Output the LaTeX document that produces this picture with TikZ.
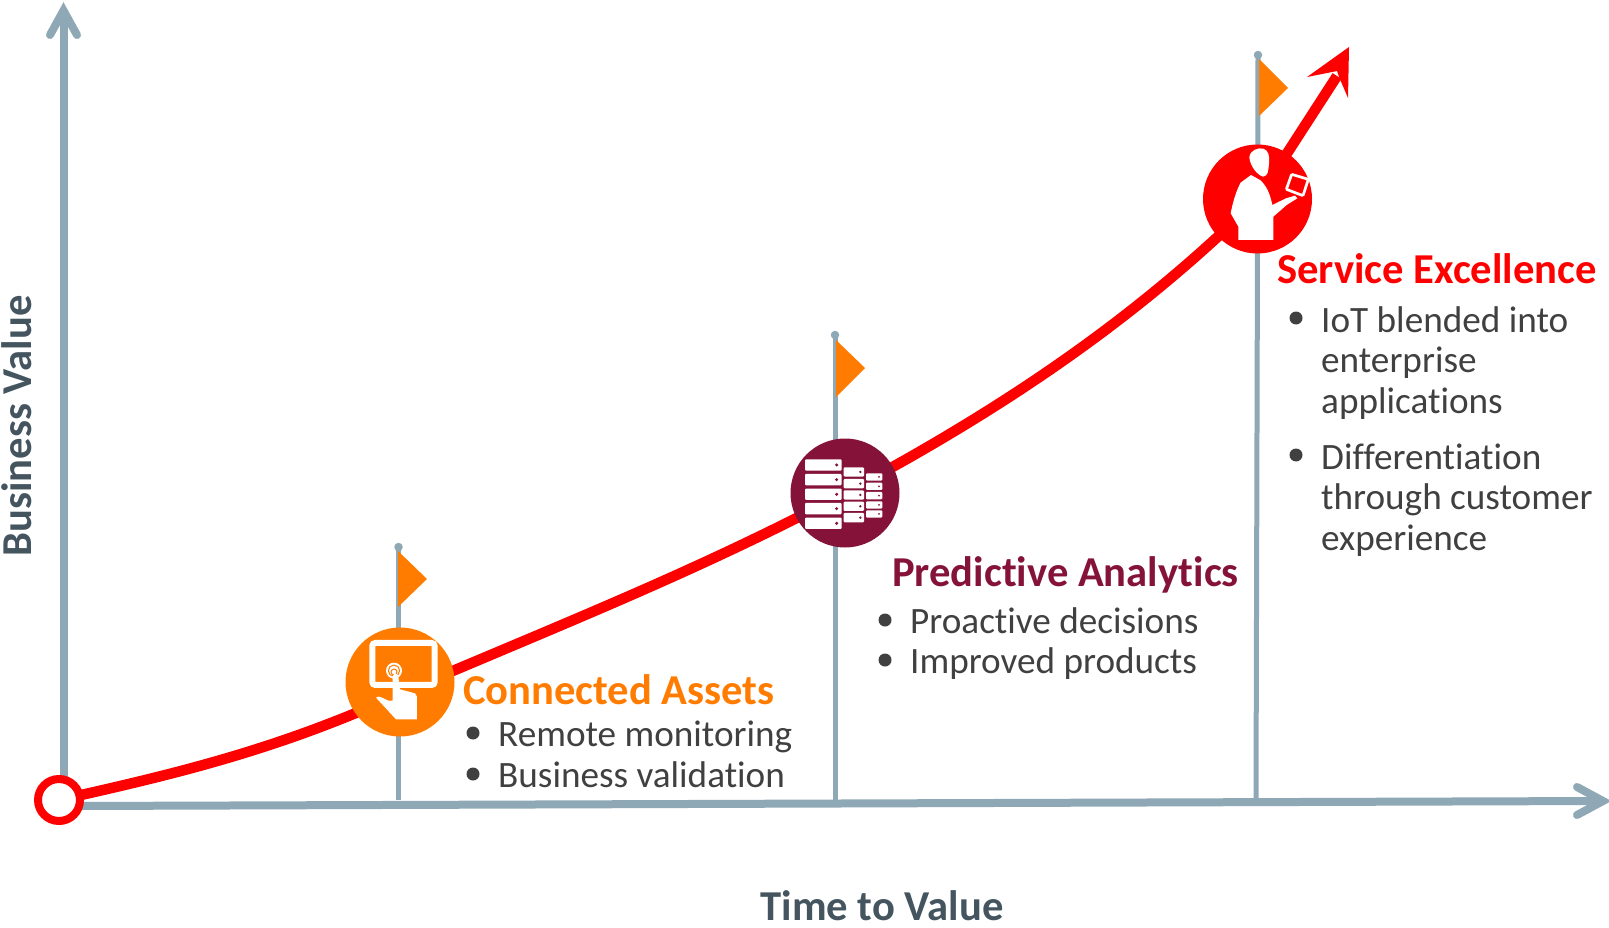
\documentclass[tikz,border=0pt]{standalone}
\usepackage{fontspec}
\setmainfont[Ligatures=NoCommon]{Carlito}
\usetikzlibrary{calc}
\definecolor{axisgray}{HTML}{8FA8B5}
\definecolor{flagorange}{HTML}{FF7C00}
\definecolor{maroon}{HTML}{851339}
\definecolor{bodytext}{HTML}{404040}
\definecolor{slate}{HTML}{44555F}
\tikzset{
  axisline/.style={draw=axisgray,line width=8pt},
  axishead/.style={draw=axisgray,line width=8pt,line cap=round,line join=miter},
  pole/.style={draw=axisgray,line width=5pt},
  poledot/.style={circle,fill=axisgray,inner sep=0pt,minimum size=8.5pt},
  flag/.style={fill=flagorange},
  trend/.style={draw=red,line width=10.5pt},
  badge/.style={circle,inner sep=0pt,minimum size=109pt},
  heading/.style={anchor=base west,inner sep=0pt,font=\fontsize{42.6}{42.6}\selectfont\bfseries},
  bodyline/.style={anchor=base west,inner sep=0pt,text=bodytext,font=\fontsize{37.2}{37.2}\selectfont},
  bulletdot/.style={circle,fill=bodytext,inner sep=0pt,minimum size=13pt},
  axislabel/.style={inner sep=0pt,text=slate,font=\fontsize{42.6}{42.6}\selectfont\bfseries},
  icon/.style={fill=white,draw=none},
  zoomA/.style={shift={(320,530)},x=0.3333pt,y=-0.3333pt},
  zoomB/.style={shift={(770,320)},x=0.3333pt,y=-0.3333pt},
  zoomC/.style={shift={(1180,30)},x=0.3333pt,y=-0.3333pt},
}
\begin{document}
\begin{tikzpicture}[x=1pt,y=-1pt]
\useasboundingbox (0,0) rectangle (1609,928);
% anchors
\coordinate (yTop) at (63.5,10.5);
\coordinate (yBot) at (63.5,790);
\coordinate (yL) at (50,35);
\coordinate (yR) at (77,35);
\coordinate (xStart) at (75,806);
\coordinate (xTip) at (1603,801);
\coordinate (xU) at (1577,787);
\coordinate (xD) at (1577,815);
\coordinate (orig) at (59,800);
\coordinate (p1top) at (398.5,547);
\coordinate (p1bot) at (398.5,800);
\coordinate (p2top) at (835,335);
\coordinate (p2bot) at (835,800);
\coordinate (p3top) at (1258,55);
\coordinate (p3bot) at (1256,800);
\coordinate (redTip) at (1349,47);
% axes
\draw[axisline] (yBot) -- (yTop);
\draw[axisline] (xStart) -- (xTip);
\draw[axishead] (yL) -- (yTop) -- (yR);
\draw[axishead] (xU) -- (xTip) -- (xD);
% poles and flags
\draw[pole] (p1top) -- (p1bot);
\draw[pole] (p2top) -- (p2bot);
\draw[pole] (p3top) -- (p3bot);
\node[poledot] (d1) at (p1top) {};
\node[poledot] (d2) at (p2top) {};
\node[poledot] (d3) at (p3top) {};
\fill[flag] (398,551) -- (427,579) -- (398,607) -- cycle;
\fill[flag] (836,340) -- (865,368) -- (836,397) -- cycle;
\fill[flag] (1259,59) -- (1288,88) -- (1259,116) -- cycle;
% trend
\coordinate (c1) at (400,682);
\coordinate (c1t) at (408,690);
\coordinate (c2) at (845,493);
\coordinate (c3) at (1257.5,199);
\draw[trend] (orig) .. controls (170,775) and (280,750) .. (c1t)
  .. controls (560,625) and (700,570) .. (c2)
  .. controls (1010,405) and (1140,315) .. (c3);
\draw[draw=red,line width=10.5pt] (c3) -- (1337,76);
\fill[red] (redTip) -- (1307,77) -- (1337,71) -- (1339,77) -- (1348,98) -- cycle;
% origin ring
\node[circle,draw=red,fill=white,line width=8pt,inner sep=0pt,minimum size=42pt] (origin) at (orig) {};
% badges
\node[badge,fill=flagorange] (b1) at (c1) {};
\node[badge,fill=maroon] (b2) at (c2) {};
\node[badge,fill=red] (b3) at (c3) {};
% icon 1
\begin{scope}[zoomA]
\draw[white,line width=6pt,rounded corners=3pt] (157,339) rectangle (344,465);
\fill[white] (222,422) circle (24);
\draw[flagorange,line width=1pt] (222,422) circle (17);
\draw[flagorange,line width=1pt] (222,426) circle (9);
\fill[icon] (168,503) .. controls (175,495) and (190,505) .. (205,512) -- (218,512) -- (218,440)
  .. controls (220,428) and (233,428) .. (235,440) -- (240,478) -- (285,490) -- (291,500) -- (291,568) -- (228,568) -- cycle;
\end{scope}
% icon 2
\begin{scope}[zoomB]
\foreach \ya/\yb in {418/452,462/496,506/540,549/583,593/627}{
  \fill[white,rounded corners=1pt] (105,\ya) rectangle (215,\yb);
  \fill[maroon] (200,{(\ya+\yb)/2}) circle (5);
}
\foreach \ya/\yb in {442/470,477/505,511/539,545/573,579/607}{
  \fill[white,rounded corners=1pt] (221,\ya) rectangle (282,\yb);
  \fill[maroon] (271,{(\ya+\yb)/2}) circle (4);
}
\foreach \ya/\yb in {460/482,488/510,516/538,544/566,571/593}{
  \fill[white,rounded corners=1pt] (288,\ya) rectangle (337,\yb);
  \fill[maroon] (327,{(\ya+\yb)/2}) circle (3);
}
\end{scope}
% icon 3
\begin{scope}[zoomC]
\fill[icon] (208,382) .. controls (210,360) and (235,352) .. (250,356)
  .. controls (265,360) and (270,380) .. (267,400) .. controls (265,420) and (265,438) .. (250,440)
  .. controls (235,438) and (210,410) .. (208,382) -- cycle;
\fill[icon] (213,435) -- (240,450) .. controls (258,465) and (270,490) .. (277,525)
  -- (318,505) -- (345,497) -- (352,505) -- (320,525) -- (280,560) -- (280,630) -- (175,630) -- (175,590)
  -- (152,550) .. controls (160,510) and (170,480) .. (182,458) -- cycle;
\draw[white,line width=2.7pt,rounded corners=1pt] (335,433) -- (385,448) -- (369,497) -- (319,478) -- cycle;
\end{scope}
% labels
\node[heading,text=flagorange] (hA) at (463,704) {Connected Assets};
\node[bulletdot] (a1) at (473,733) {};
\node[bulletdot] (a2) at (473,774) {};
\node[bodyline] (ta1) at (498,746) {Remote monitoring};
\node[bodyline] (ta2) at (498,787) {Business validation};
\node[heading,text=maroon] (hB) at (892,586) {Predictive Analytics};
\node[bulletdot] (b1d) at (885,620) {};
\node[bulletdot] (b2d) at (885,660) {};
\node[bodyline] (tb1) at (910,633) {Proactive decisions};
\node[bodyline] (tb2) at (910,673) {Improved products};
\node[heading,text=red] (hC) at (1277,283) {Service Excellence};
\node[bulletdot] (c1d) at (1296,318) {};
\node[bulletdot] (c2d) at (1296,455) {};
\node[bodyline] (tc1) at (1321,332) {IoT blended into};
\node[bodyline] (tc2) at (1321,372) {enterprise};
\node[bodyline] (tc3) at (1321,413) {applications};
\node[bodyline] (tc4) at (1321,469) {Differentiation};
\node[bodyline] (tc5) at (1321,509) {through customer};
\node[bodyline] (tc6) at (1321,550) {experience};
\node[axislabel,anchor=base] (xl) at (882,920) {Time to Value};
\node[axislabel,anchor=base,rotate=90] (yl) at (31,426) {Business Value};
\end{tikzpicture}
\end{document}
